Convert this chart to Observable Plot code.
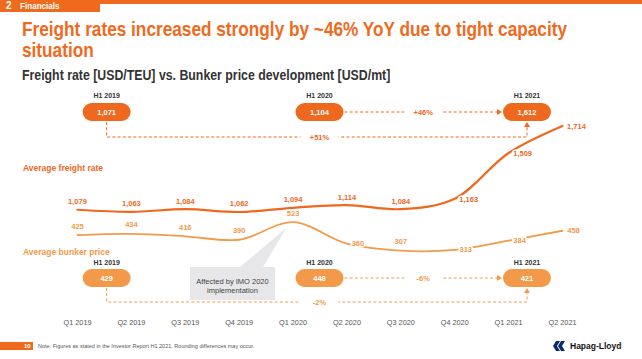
<!DOCTYPE html>
<html><head><meta charset="utf-8">
<script src="https://cdn.jsdelivr.net/npm/d3@7"></script>
<script src="https://cdn.jsdelivr.net/npm/@observablehq/plot@0.6"></script>
<style>
body{margin:0;background:#fff;}
#page{position:relative;width:642px;height:359px;overflow:hidden;font-family:"Liberation Sans",Arial,sans-serif;background:#fff;}
.topbar{position:absolute;left:0;top:0;width:642px;height:4px;background:#F06A1E;}
.tab{position:absolute;left:0;top:0;width:100px;height:12px;background:#F06A1E;color:#fff;font-weight:bold;font-size:9px;line-height:12px;}
.tab .num{position:absolute;left:6px;top:0;font-size:10px;}
.tab .lbl{position:absolute;left:20px;top:0;display:inline-block;transform:scaleX(0.9);transform-origin:left center;}
.title{position:absolute;left:22px;top:18px;width:800px;color:#F06A1E;font-weight:bold;font-size:21px;line-height:21px;white-space:nowrap;transform:scaleX(0.82);transform-origin:left top;}
.subtitle{position:absolute;left:22px;top:68px;width:600px;color:#333;font-weight:bold;font-size:14px;line-height:14px;white-space:nowrap;transform:scaleX(0.88);transform-origin:left top;}
#chart{position:absolute;left:0;top:88px;}
.foot-bar{position:absolute;left:0;top:342px;width:33px;height:8px;background:#F06A1E;}
.foot-num{position:absolute;left:24px;top:342px;color:#fff;font-weight:bold;font-size:6px;line-height:8px;}
.note{position:absolute;left:38px;top:342px;color:#555;font-size:5.5px;line-height:8px;}
.logo{position:absolute;left:552px;top:340px;height:12px;}
.logo-text{position:absolute;left:570px;top:340px;font-weight:bold;font-size:8.5px;line-height:12px;color:#111;}
</style></head>
<body>
<div id="page">
  <div class="topbar"></div>
  <div class="tab"><span class="num">2</span><span class="lbl">Financials</span></div>
  <div class="title">Freight rates increased strongly by ~46% YoY due to tight capacity<br>situation</div>
  <div class="subtitle">Freight rate [USD/TEU] vs. Bunker price development [USD/mt]</div>
  <div id="chart"></div>
  <div class="foot-bar"></div><div class="foot-num">10</div>
  <div class="note">Note: Figures as stated in the Investor Report H1 2021. Rounding differences may occur.</div>
  <svg class="logo" width="14" height="12" viewBox="0 0 14 12"><polygon points="4,1 8,1 5,6 8,11 4,11 1,6" fill="#0B2A6F"/><polygon points="9,1 13,1 10,6 13,11 9,11 6,6" fill="#0B2A6F"/></svg>
  <div class="logo-text">Hapag-Lloyd</div>
</div>
<script>
// ---- data ----
const quarters = ["Q1 2019","Q2 2019","Q3 2019","Q4 2019","Q1 2020","Q2 2020","Q3 2020","Q4 2020","Q1 2021","Q2 2021"];
const freightRate = [1079,1063,1084,1062,1094,1114,1084,1163,1509,1714];
const bunkerPrice = [425,434,416,390,523,360,307,313,384,458];
const halfYears = ["H1 2019","H1 2020","H1 2021"];
const freightH1 = [1071,1104,1612];
const bunkerH1 = [429,448,421];
const freightChangeYoY = "+46%";
const freightChange2Y = "+51%";
const bunkerChangeYoY = "-6%";
const bunkerChange2Y = "-2%";

// ---- layout ----
const freightColor = "#EE681D";
const bunkerColor = "#F39A4A";
const freightLabelPos = ["above","above","above","above","above","above","above","right","right","right"];
const bunkerLabelPos = ["above","above","above","above","above","right","above","right","right","right"];
const h1X = [0.55, 4.5, 8.35];   // pill centres in quarter-index units
const BUNKER_SHIFT = 462;          // vertical placement of the bunker curve
const fmt = d3.format(",");

const freight = quarters.map((q,i)=>({i, q, v: freightRate[i], pos: freightLabelPos[i]}));
const bunker = quarters.map((q,i)=>({i, q, v: bunkerPrice[i], pos: bunkerLabelPos[i]}));

const W = 642, H = 252;

function annotations(index, scales, values, dimensions) {
  const xs = (scales && typeof scales.x === "function") ? scales.x : d3.scaleLinear([0,9],[77,562]);
  const ys = (scales && typeof scales.y === "function") ? scales.y : d3.scaleLinear([0,2000],[263.7,-0.3]);
  const g = d3.create("svg:g").attr("text-anchor","middle");
  const pw = 48, ph = 18;

  // callout wedge + box
  const tipX = xs(4) - 6, tipY = ys(bunkerPrice[4] + BUNKER_SHIFT) + 6;
  g.append("polygon").attr("points", `${tipX},${tipY} 263,179 240,179`).attr("fill","#E7E7E9");
  g.append("rect").attr("x",190).attr("y",179).attr("width",85).attr("height",33).attr("fill","#E7E7E9");
  g.append("text").attr("x",232.5).attr("y",193).attr("dy","0.35em")
    .attr("font-size",7.5).attr("fill","#444").text("Affected by IMO 2020");
  g.append("text").attr("x",232.5).attr("y",202).attr("dy","0.35em")
    .attr("font-size",7.5).attr("fill","#444").text("implementation");

  function group(vals, color, pillY, labelY, lowY, change1, change2) {
    const cx = h1X.map(v => xs(v));
    const top = pillY - ph/2, bot = pillY + ph/2;
    const dash = "3,2.2";
    g.append("path").attr("d", `M${cx[0]},${bot+1}V${lowY}H${cx[2]}V${bot+6}`)
      .attr("fill","none").attr("stroke",color).attr("stroke-width",1).attr("stroke-dasharray",dash);
    g.append("path").attr("d", `M${cx[2]},${bot+1}L${cx[2]-3},${bot+6}L${cx[2]+3},${bot+6}Z`).attr("fill",color);
    const x1 = cx[1] + pw/2 + 1, x2 = cx[2] - pw/2 - 1;
    g.append("path").attr("d", `M${x1},${pillY}H${x2-5}`)
      .attr("fill","none").attr("stroke",color).attr("stroke-width",1).attr("stroke-dasharray",dash);
    g.append("path").attr("d", `M${x2},${pillY}L${x2-5},${pillY-3}L${x2-5},${pillY+3}Z`).attr("fill",color);
    const lab = (x, y, t) => {
      g.append("rect").attr("x", x-19).attr("y", y-5).attr("width",38).attr("height",10).attr("fill","#fff");
      g.append("text").attr("x",x).attr("y",y).attr("dy","0.35em")
        .attr("font-size",7.5).attr("font-weight","bold").attr("fill",color).text(t);
    };
    lab((x1+x2)/2, pillY, change1);
    lab(cx[1], lowY, change2);
    vals.forEach((v,k) => {
      g.append("rect").attr("x",cx[k]-pw/2).attr("y",top).attr("width",pw).attr("height",ph)
        .attr("rx",9).attr("ry",9).attr("fill",color);
      g.append("text").attr("x",cx[k]).attr("y",pillY).attr("dy","0.35em")
        .attr("font-size",7.5).attr("font-weight","bold").attr("fill","#fff").text(fmt(v));
      g.append("text").attr("x",cx[k]).attr("y",labelY).attr("dy","0.35em")
        .attr("font-size",7).attr("font-weight","bold").attr("fill","#333").text(halfYears[k]);
    });
  }
  group(freightH1, freightColor, 24, 8, 49, freightChangeYoY, freightChange2Y);
  group(bunkerH1, bunkerColor, 190, 175, 214, bunkerChangeYoY, bunkerChange2Y);

  g.append("text").attr("x",23).attr("y",80).attr("dy","0.35em").attr("text-anchor","start").attr("font-size",8.5)
    .attr("font-weight","bold").attr("fill",freightColor).text("Average freight rate");
  g.append("text").attr("x",23).attr("y",164).attr("dy","0.35em").attr("text-anchor","start").attr("font-size",8.5)
    .attr("font-weight","bold").attr("fill",bunkerColor).text("Average bunker price");
  return g.node();
}

const bY = d => d.v + BUNKER_SHIFT;
const chart = Plot.plot({
  width: W, height: H,
  marginTop: 0, marginRight: 0, marginLeft: 0, marginBottom: 16,
  x: {type: "linear", domain: [0, 9], range: [77, 562], axis: null},
  y: {type: "linear", domain: [0, 2000], range: [263.7, -0.3], axis: null},
  style: {fontFamily: "'Liberation Sans', Arial, sans-serif", background: "transparent", overflow: "visible"},
  marks: [
    annotations,
    Plot.line(freight, {x: "i", y: "v", stroke: freightColor, strokeWidth: 2.2, curve: "catmull-rom"}),
    Plot.line(bunker, {x: "i", y: bY, stroke: bunkerColor, strokeWidth: 1.8, curve: "catmull-rom"}),
    Plot.text(freight.filter(d => d.pos === "above"), {x: "i", y: "v", text: d => fmt(d.v), dy: -8,
      fill: freightColor, stroke: "white", strokeWidth: 3, fontWeight: "bold", fontSize: 7.5}),
    Plot.text(freight.filter(d => d.pos === "right"), {x: "i", y: "v", text: d => fmt(d.v), dx: 14, dy: 1,
      fill: freightColor, stroke: "white", strokeWidth: 3, fontWeight: "bold", fontSize: 7.5}),
    Plot.text(bunker.filter(d => d.pos === "above"), {x: "i", y: bY, text: d => fmt(d.v), dy: -9,
      fill: bunkerColor, stroke: "white", strokeWidth: 3, fontWeight: "bold", fontSize: 7.5}),
    Plot.text(bunker.filter(d => d.pos === "right"), {x: "i", y: bY, text: d => fmt(d.v), dx: 11, dy: 0,
      fill: bunkerColor, stroke: "white", strokeWidth: 3, fontWeight: "bold", fontSize: 7.5}),
    Plot.text(quarters, {x: (d, i) => i, frameAnchor: "bottom", text: d => d, fill: "#555", fontSize: 7.3})
  ]
});
document.getElementById("chart").appendChild(chart);
</script>
</body></html>
